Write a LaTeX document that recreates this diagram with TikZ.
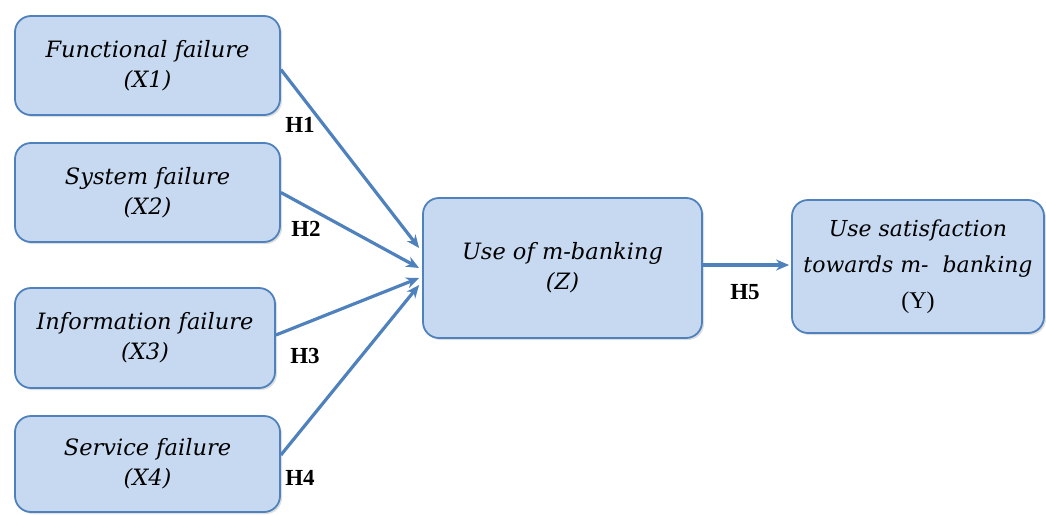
\documentclass[tikz,border=0pt]{standalone}
\usepackage{fontspec}
\setmainfont{Liberation Serif}
\newfontfamily\boxfont{DejaVu Serif}
\usetikzlibrary{arrows.meta,shadows}
\definecolor{boxfill}{HTML}{C6D9F1}
\definecolor{boxline}{HTML}{4F81BD}
\begin{document}
\begin{tikzpicture}[x=1pt,y=-1pt,
  fbox/.style={draw=boxline,line width=1.8pt,fill=boxfill,rounded corners=16pt,
    align=center,inner sep=0pt,font=\boxfont\fontsize{22.5}{30}\selectfont\itshape,
    drop shadow={opacity=0.25,shadow xshift=2pt,shadow yshift=-2pt}},
  link/.style={draw=boxline,line width=3.2pt,-{Stealth[length=13pt,width=11pt]}},
  hlab/.style={font=\fontsize{23}{24}\selectfont\bfseries,inner sep=0pt}]
\useasboundingbox (0,0) rectangle (1046,514);
\node[fbox,minimum width=265pt,minimum height=99pt] (X1) at (147.5,65.5) {Functional failure\\(X1)};
\node[fbox,minimum width=265pt,minimum height=99pt] (X2) at (147.5,192.5) {System failure\\(X2)};
\node[fbox,minimum width=260pt,minimum height=100pt] (X3) at (145,338) {Information failure\\(X3)};
\node[fbox,minimum width=265pt,minimum height=96pt] (X4) at (147.5,464) {Service failure\\(X4)};
\node[fbox,minimum width=279pt,minimum height=140pt] (Z) at (562.5,268) {Use of m-banking\\(Z)};
\node[fbox,minimum width=252pt,minimum height=133pt,font=\boxfont\fontsize{22}{36}\selectfont\itshape] (Y) at (918,266.5) {Use satisfaction\\towards m-\ \ banking\\{\upshape\rmfamily\fontsize{24}{36}\selectfont (Y)}};
\draw[link] ([yshift=-4pt]X1.east) -- ([yshift=20pt,xshift=-3pt]Z.west);
\draw[link] (X2.east) -- ([xshift=-3pt]Z.west);
\draw[link] ([yshift=3pt]X3.east) -- ([yshift=-10pt,xshift=-3pt]Z.west);
\draw[link] ([yshift=9pt]X4.east) -- ([yshift=-17pt,xshift=-3pt]Z.west);
\draw[link] ([yshift=3pt]Z.east) -- ([yshift=1.5pt,xshift=-2pt]Y.west);
\node[hlab] (h1) at (300,125) {H1};
\node[hlab] (h2) at (306,229) {H2};
\node[hlab] (h3) at (305,356) {H3};
\node[hlab] (h4) at (300,478) {H4};
\node[hlab] (h5) at (745,292) {H5};
\end{tikzpicture}
\end{document}
